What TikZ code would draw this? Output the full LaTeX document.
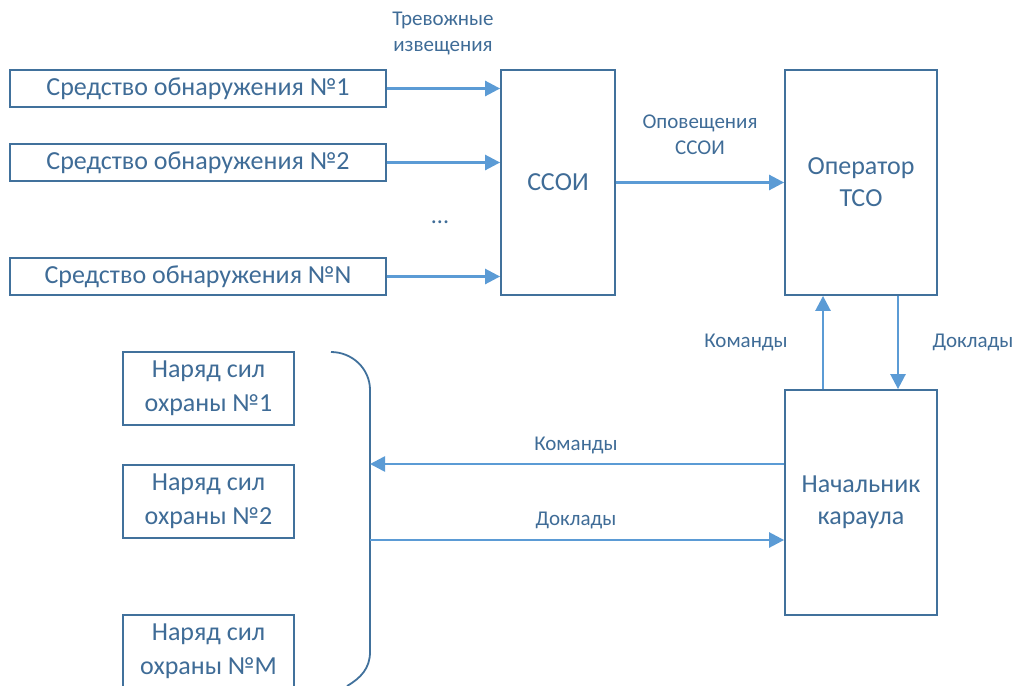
\documentclass[tikz,border=0pt]{standalone}
\usepackage{fontspec}
\setmainfont{Carlito}
\usetikzlibrary{arrows.meta}
\definecolor{boxc}{HTML}{41719C}
\definecolor{arrc}{HTML}{5B9BD5}
\definecolor{txtc}{HTML}{3F6C97}
\begin{document}
\begin{tikzpicture}[x=1pt,y=-1pt,
  box/.style={draw=boxc,line width=1.8pt,fill=white,inner sep=0pt,text=txtc,font=\fontsize{26}{32}\selectfont,align=center},
  guard/.style={box,minimum width=171pt,minimum height=73pt,font=\fontsize{26}{34}\selectfont},
  arr/.style={draw=arrc,line width=2.6pt,-{Triangle[length=15pt,width=15pt]}},
  lab/.style={text=txtc,font=\fontsize{21}{26}\selectfont,align=center,inner sep=0pt}]
\useasboundingbox (0,0) rectangle (1016,685);
\clip (0,0) rectangle (1016,685);
% left detection boxes
\node[box,minimum width=376pt,minimum height=37pt] (so1) at (198,88.5) {Средство обнаружения №1};
\node[box,minimum width=376pt,minimum height=37pt] (so2) at (198,162.5) {Средство обнаружения №2};
\node[box,minimum width=376pt,minimum height=37pt] (son) at (198,276.5) {Средство обнаружения №N};
\node[lab,font=\fontsize{24}{28}\selectfont] (dots) at (440,222) {...};
% main boxes
\node[box,minimum width=114pt,minimum height=225pt] (ssoi) at (558,182.5) {ССОИ};
\node[box,minimum width=152pt,minimum height=225pt] (op) at (861,182.5) {Оператор\\ТСО};
\node[box,minimum width=152pt,minimum height=225pt] (nk) at (861,502.5) {Начальник\\караула};
% guard boxes
\node[guard] (n1) at (208.5,388.5) {Наряд сил\\охраны №1};
\node[guard] (n2) at (208.5,501.5) {Наряд сил\\охраны №2};
\node[guard] (nm) at (208.5,651.5) {Наряд сил\\охраны №M};
% bracket
\coordinate (bt) at (331,352);
\coordinate (bb) at (347,686);
\coordinate (bk) at (370,464);
\coordinate (bd) at (370,540);
\draw[boxc,line width=1.8pt] (bt) to[out=0,in=90] (370,390) -- (370,652) to[out=-90,in=30] (bb);
% arrows
\draw[arr] (so1.east) -- (so1.east -| ssoi.west);
\draw[arr] (so2.east) -- (so2.east -| ssoi.west);
\draw[arr] (son.east) -- (son.east -| ssoi.west);
\draw[arr] (ssoi.east) -- (op.west);
\draw[arr] (nk.north -| 823,0) -- (op.south -| 823,0);
\draw[arr] (op.south -| 898,0) -- (nk.north -| 898,0);
\draw[arr] (nk.west |- bk) -- (bk);
\draw[arr] (bd) -- (nk.west |- bd);
% labels
\node[lab] (l1) at (443,33) {Тревожные\\извещения};
\node[lab] (l2) at (700,135) {Оповещения\\ССОИ};
\node[lab] (l3) at (746,342) {Команды};
\node[lab] (l4) at (973,342) {Доклады};
\node[lab] (l5) at (576,445) {Команды};
\node[lab] (l6) at (576,520) {Доклады};
\end{tikzpicture}
\end{document}
